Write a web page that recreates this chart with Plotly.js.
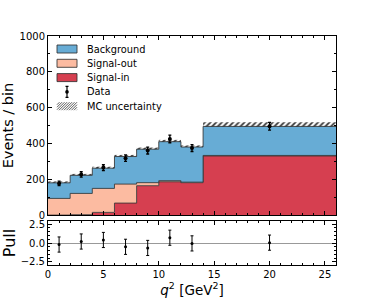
<!DOCTYPE html>
<html>
<head>
<meta charset="utf-8">
<script src="https://cdn.plot.ly/plotly-3.0.1.min.js"></script>
<style>html,body{margin:0;padding:0;background:#fff;}#chart{width:374px;height:304px;}</style>
</head>
<body>
<div id="chart"></div>
<script>
// Bin edges / centres in q^2 [GeV^2]
const binEdges = [0, 2, 4, 6, 8, 10, 12, 14, 26];
const binCenters = [1, 3, 5, 7, 9, 11, 13, 20];
// Stacked MC components (events / bin)
const signalIn = [0, 2, 15, 67, 164, 186, 181, 330];
const signalOut = [93, 119, 134, 106, 17, 6, 3, 3];
const background = [87, 101, 113, 154, 187, 218, 196, 162];
const mcUncertainty = [8, 8, 8, 9, 9, 10, 9, 23];
// Data
const dataValues = [177, 227, 265, 318, 360, 425, 374, 496];
const dataErrors = [13, 15, 16, 18, 19, 21, 19, 22];
// Pulls
const pullValues = [-0.2, 0.2, 0.4, -0.5, -0.65, 0.7, -0.05, 0.05];
const pullErrors = [1, 1, 1, 1, 1, 1, 1, 1];
// Legend labels
const legendLabels = ['Background', 'Signal-out', 'Signal-in', 'Data', 'MC uncertainty'];

const FONT = "DejaVu Sans, sans-serif";
const EDGE = "rgba(50,50,50,0.85)";
const C_BKG = "#67acd5";
const C_OUT = "#fcbba1";
const C_IN = "#d63f50";
const HATCH = "#333";

const widths = binEdges.slice(1).map((e, i) => e - binEdges[i]);
const cumIn = signalIn.slice();
const cumOut = signalIn.map((v, i) => v + signalOut[i]);
const cumTot = cumOut.map((v, i) => v + background[i]);
const stepY = arr => arr.concat([arr[arr.length - 1]]);

const traces = [
  {x: binEdges, y: stepY(cumIn), type: 'scatter', mode: 'lines', line: {shape: 'hv', color: EDGE, width: 1},
   fill: 'tozeroy', fillcolor: C_IN, xaxis: 'x', yaxis: 'y'},
  {x: binEdges, y: stepY(cumOut), type: 'scatter', mode: 'lines', line: {shape: 'hv', color: EDGE, width: 1},
   fill: 'tonexty', fillcolor: C_OUT, xaxis: 'x', yaxis: 'y'},
  {x: binEdges, y: stepY(cumTot), type: 'scatter', mode: 'lines', line: {shape: 'hv', color: EDGE, width: 1},
   fill: 'tonexty', fillcolor: C_BKG, xaxis: 'x', yaxis: 'y'},
  {x: binCenters, y: mcUncertainty.map(u => 2 * u), base: cumTot.map((t, i) => t - mcUncertainty[i]),
   width: widths, type: 'bar', xaxis: 'x', yaxis: 'y',
   marker: {color: 'rgba(0,0,0,0)', line: {width: 0},
            pattern: {shape: '/', fgcolor: HATCH, bgcolor: 'rgba(255,255,255,0.45)', size: 4, solidity: 0.45, fillmode: 'replace'}}},
  {x: binCenters, y: dataValues, type: 'scatter', mode: 'markers',
   marker: {color: 'black', size: 4},
   error_y: {type: 'data', array: dataErrors, visible: true, color: 'black', thickness: 1.3, width: 1.5},
   xaxis: 'x', yaxis: 'y'},
  {x: binCenters, y: pullValues, type: 'scatter', mode: 'markers',
   marker: {color: 'black', size: 3},
   error_y: {type: 'data', array: pullErrors, visible: true, color: 'black', thickness: 1, width: 1.5},
   xaxis: 'x2', yaxis: 'y2'}
];

// ---- custom legend (pixel-sized shapes anchored in paper coordinates) ----
const PLOT_L = 48, PLOT_T = 36, PLOT_W = 288, PLOT_H = 229;
const px2x = px => (px - PLOT_L) / PLOT_W;
const py2y = py => (PLOT_T + PLOT_H - py) / PLOT_H;
const rowY = [49, 63.3, 77.6, 91.9, 106.2];
const symX = 57, symW = 20, symH = 8, textX = 85;
const shapes = [];
const annotations = [];
const boxColors = [C_BKG, C_OUT, C_IN];
boxColors.forEach((c, i) => {
  shapes.push({type: 'rect', xref: 'paper', yref: 'paper', xsizemode: 'pixel', ysizemode: 'pixel',
    xanchor: px2x(symX), yanchor: py2y(rowY[i]), x0: 0, x1: symW, y0: -symH / 2, y1: symH / 2,
    fillcolor: c, line: {color: EDGE, width: 1}});
});
// Data symbol: error bar + dot
shapes.push({type: 'path', xref: 'paper', yref: 'paper', xsizemode: 'pixel', ysizemode: 'pixel',
  xanchor: px2x(symX + symW / 2), yanchor: py2y(rowY[3]),
  path: 'M0,-5.5L0,5.5M-1.5,-5.5L1.5,-5.5M-1.5,5.5L1.5,5.5', line: {color: 'black', width: 1.2}});
shapes.push({type: 'circle', xref: 'paper', yref: 'paper', xsizemode: 'pixel', ysizemode: 'pixel',
  xanchor: px2x(symX + symW / 2), yanchor: py2y(rowY[3]), x0: -1.8, x1: 1.8, y0: -1.8, y1: 1.8,
  fillcolor: 'black', line: {color: 'black', width: 0}});
// MC uncertainty symbol: hatched box
(function () {
  let p = '';
  const h = symH, w = symW, step = 2.5;
  for (let s = -h; s < w; s += step) {
    let x0 = s, y0 = -h / 2, x1 = s + h, y1 = h / 2;
    if (x0 < 0) { y0 += -x0; x0 = 0; }
    if (x1 > w) { y1 -= (x1 - w); x1 = w; }
    if (x1 > x0) p += 'M' + x0.toFixed(2) + ',' + y0.toFixed(2) + 'L' + x1.toFixed(2) + ',' + y1.toFixed(2);
  }
  shapes.push({type: 'path', xref: 'paper', yref: 'paper', xsizemode: 'pixel', ysizemode: 'pixel',
    xanchor: px2x(symX), yanchor: py2y(rowY[4]), path: p, line: {color: HATCH, width: 0.8}});
})();
legendLabels.forEach((t, i) => {
  annotations.push({text: t, xref: 'paper', yref: 'paper', x: px2x(textX), y: py2y(rowY[i]),
    xanchor: 'left', yanchor: 'middle', showarrow: false,
    font: {family: FONT, size: 9.8, color: 'black'}});
});

const axisCommon = {
  showline: true, linecolor: 'black', linewidth: 1, mirror: 'allticks',
  ticks: 'inside', ticklen: 4, tickwidth: 1, tickcolor: 'black',
  showgrid: false, zeroline: false,
  tickfont: {family: FONT, size: 10, color: 'black'}
};

const layout = {
  width: 374, height: 304,
  margin: {l: PLOT_L, r: 374 - PLOT_L - PLOT_W, t: PLOT_T, b: 304 - PLOT_T - PLOT_H},
  paper_bgcolor: 'white', plot_bgcolor: 'white',
  font: {family: FONT, color: 'black'},
  barmode: 'overlay',
  showlegend: false,
  shapes: shapes,
  annotations: annotations,
  xaxis: Object.assign({}, axisCommon, {domain: [0, 1], anchor: 'y', range: [0, 26], dtick: 5, tick0: 0,
           showticklabels: false, matches: 'x2',
           minor: {dtick: 1, ticks: 'inside', ticklen: 2, tickcolor: 'black'}}),
  yaxis: Object.assign({}, axisCommon, {domain: [0.218, 1], anchor: 'x', range: [0, 1000], dtick: 200,
           minor: {dtick: 100, ticks: 'inside', ticklen: 2, tickcolor: 'black'},
           title: {text: 'Events / bin', font: {family: FONT, size: 14.5, color: 'black'}, standoff: 4}}),
  xaxis2: Object.assign({}, axisCommon, {domain: [0, 1], anchor: 'y2', range: [0, 26], dtick: 5, tick0: 0,
           minor: {dtick: 1, ticks: 'inside', ticklen: 2, tickcolor: 'black'},
           title: {text: '<i>q</i><sup>2</sup> [GeV<sup>2</sup>]', font: {family: FONT, size: 13.5, color: 'black'}, standoff: 4}}),
  yaxis2: Object.assign({}, axisCommon, {domain: [0, 0.192], anchor: 'x2', range: [-2.9, 2.9],
           tickvals: [-2.5, 0, 2.5], ticktext: ['\u22122.5', '0.0', '2.5'],
           zeroline: true, zerolinecolor: '#999', zerolinewidth: 1,
           minor: {dtick: 0.5, ticks: 'inside', ticklen: 2, tickcolor: 'black'},
           title: {text: 'Pull', font: {family: FONT, size: 16, color: 'black'}, standoff: 3}})
};

Plotly.newPlot('chart', traces, layout, {displayModeBar: false, staticPlot: true});
</script>
</body>
</html>
